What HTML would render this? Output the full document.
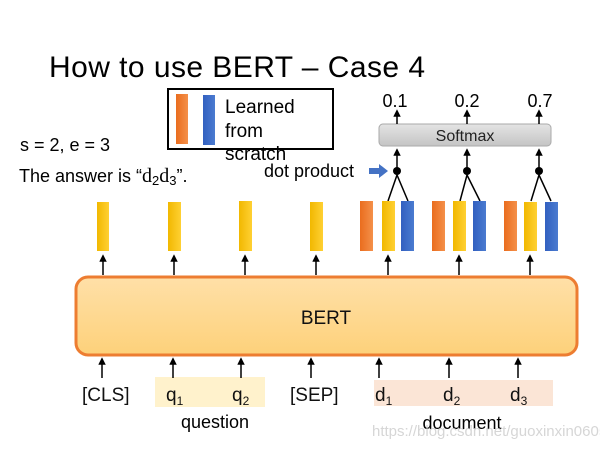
<!DOCTYPE html>
<html><head><meta charset="utf-8"><style>html,body{margin:0;padding:0;background:#fff}svg{display:block}</style></head>
<body>
<svg width="600" height="450" viewBox="0 0 600 450" xmlns="http://www.w3.org/2000/svg" font-family="Liberation Sans, sans-serif">
<defs>
<linearGradient id="og" x1="0" x2="1"><stop offset="0" stop-color="#ea6d1e"/><stop offset="1" stop-color="#f4904a"/></linearGradient>
<linearGradient id="yg" x1="0" x2="1"><stop offset="0" stop-color="#f1b800"/><stop offset="1" stop-color="#ffd033"/></linearGradient>
<linearGradient id="bg" x1="0" x2="1"><stop offset="0" stop-color="#3260c0"/><stop offset="1" stop-color="#4b7bd0"/></linearGradient>
<linearGradient id="bert" x1="0" y1="0" x2="0" y2="1"><stop offset="0" stop-color="#ffe0a8"/><stop offset="1" stop-color="#fdd17a"/></linearGradient>
<linearGradient id="sm" x1="0" y1="0" x2="0" y2="1"><stop offset="0" stop-color="#e4e4e4"/><stop offset="1" stop-color="#c4c4c4"/></linearGradient>
<marker id="ah" markerWidth="5" markerHeight="5" refX="2.5" refY="2.5" orient="auto"><path d="M0,0 L5,2.5 L0,5 z" fill="#000"/></marker>
</defs>
<text x="49" y="77" font-size="30" fill="#000" textLength="376" font-weight="300">How to use BERT – Case 4</text>

<rect x="168" y="89" width="165" height="60" fill="#fff" stroke="#000" stroke-width="2"/>
<rect x="176" y="94" width="12" height="50" fill="url(#og)"/>
<rect x="203" y="95" width="12" height="50" fill="url(#bg)"/>
<text font-size="19" fill="#000"><tspan x="225" y="113">Learned</tspan><tspan x="225" y="137">from</tspan><tspan x="225" y="160">scratch</tspan></text>

<text x="20" y="151" font-size="18">s = 2, e = 3</text>
<text x="19" y="182" font-size="18">The answer is “<tspan font-family="Liberation Serif, serif" font-size="20">d</tspan><tspan font-size="13" dy="3">2</tspan><tspan dy="-3" font-family="Liberation Serif, serif" font-size="20">d</tspan><tspan font-size="13" dy="3">3</tspan><tspan dy="-3">”.</tspan></text>
<text x="264" y="177" font-size="18">dot product</text>
<path d="M369,168 h10 v-4 l9,7 l-9,7 v-4 h-10 z" fill="#4472c4"/>

<rect x="379" y="124" width="172" height="22" rx="4" fill="url(#sm)" stroke="#aaa"/>
<text x="465" y="141" font-size="16" text-anchor="middle" fill="#222">Softmax</text>
<g font-size="18" text-anchor="middle"><text x="395" y="107">0.1</text><text x="467" y="107">0.2</text><text x="540" y="107">0.7</text></g>
<g stroke="#000" stroke-width="1.5">
<line x1="397" y1="124" x2="397" y2="113" marker-end="url(#ah)"/>
<line x1="467" y1="124" x2="467" y2="113" marker-end="url(#ah)"/>
<line x1="539" y1="124" x2="539" y2="113" marker-end="url(#ah)"/>
<line x1="397" y1="170" x2="397" y2="152" marker-end="url(#ah)"/>
<line x1="467" y1="170" x2="467" y2="152" marker-end="url(#ah)"/>
<line x1="539" y1="170" x2="539" y2="152" marker-end="url(#ah)"/>
<path d="M388,201 L397,175 L408,201 M460,201 L467,175 L480,201 M531,201 L539,175 L551,201" fill="none"/>
</g>
<circle cx="397" cy="171" r="4"/><circle cx="467" cy="171" r="4"/><circle cx="539" cy="171" r="4"/>

<g>
<rect x="97" y="202" width="12" height="49" fill="url(#yg)"/>
<rect x="168" y="202" width="13" height="49" fill="url(#yg)"/>
<rect x="239" y="201" width="13" height="50" fill="url(#yg)"/>
<rect x="310" y="202" width="13" height="49" fill="url(#yg)"/>
<rect x="360" y="201" width="13" height="50" fill="url(#og)"/>
<rect x="382" y="201" width="13" height="50" fill="url(#yg)"/>
<rect x="401" y="201" width="13" height="50" fill="url(#bg)"/>
<rect x="432" y="201" width="13" height="50" fill="url(#og)"/>
<rect x="453" y="201" width="13" height="50" fill="url(#yg)"/>
<rect x="473" y="201" width="13" height="50" fill="url(#bg)"/>
<rect x="504" y="201" width="13" height="50" fill="url(#og)"/>
<rect x="524" y="202" width="13" height="49" fill="url(#yg)"/>
<rect x="545" y="202" width="13" height="49" fill="url(#bg)"/>
</g>
<g stroke="#000" stroke-width="1.5">
<line x1="103" y1="275" x2="103" y2="258" marker-end="url(#ah)"/>
<line x1="174" y1="275" x2="174" y2="258" marker-end="url(#ah)"/>
<line x1="245" y1="275" x2="245" y2="258" marker-end="url(#ah)"/>
<line x1="316" y1="275" x2="316" y2="258" marker-end="url(#ah)"/>
<line x1="388" y1="275" x2="388" y2="258" marker-end="url(#ah)"/>
<line x1="459" y1="275" x2="459" y2="258" marker-end="url(#ah)"/>
<line x1="530" y1="275" x2="530" y2="258" marker-end="url(#ah)"/>
</g>

<rect x="76" y="277" width="501" height="78" rx="12" fill="url(#bert)" stroke="#ed7d31" stroke-width="3"/>
<text x="326" y="324" font-size="19" text-anchor="middle" fill="#111">BERT</text>

<rect x="155" y="377" width="110" height="30" fill="#fff2cc"/>
<rect x="374" y="380" width="179" height="26" fill="#fbe5d6"/>
<g stroke="#000" stroke-width="1.5">
<line x1="102" y1="378" x2="102" y2="361" marker-end="url(#ah)"/>
<line x1="173" y1="378" x2="173" y2="361" marker-end="url(#ah)"/>
<line x1="241" y1="378" x2="241" y2="361" marker-end="url(#ah)"/>
<line x1="311" y1="378" x2="311" y2="361" marker-end="url(#ah)"/>
<line x1="379" y1="378" x2="379" y2="361" marker-end="url(#ah)"/>
<line x1="449" y1="378" x2="449" y2="361" marker-end="url(#ah)"/>
<line x1="518" y1="378" x2="518" y2="361" marker-end="url(#ah)"/>
</g>
<g font-size="19" fill="#111">
<text x="82" y="401">[CLS]</text>
<text x="166" y="401">q<tspan font-size="12" dy="4">1</tspan></text>
<text x="232" y="401">q<tspan font-size="12" dy="4">2</tspan></text>
<text x="290" y="401">[SEP]</text>
<text x="375" y="401">d<tspan font-size="12" dy="4">1</tspan></text>
<text x="443" y="401">d<tspan font-size="12" dy="4">2</tspan></text>
<text x="510" y="401">d<tspan font-size="12" dy="4">3</tspan></text>
</g>
<text x="215" y="428" font-size="18" text-anchor="middle">question</text>
<text x="462" y="429" font-size="18" text-anchor="middle">document</text>
<text x="372" y="436" font-size="15" fill="#ccc" opacity="0.8">https://blog.csdn.net/guoxinxin0605</text>
</svg>
</body></html>
